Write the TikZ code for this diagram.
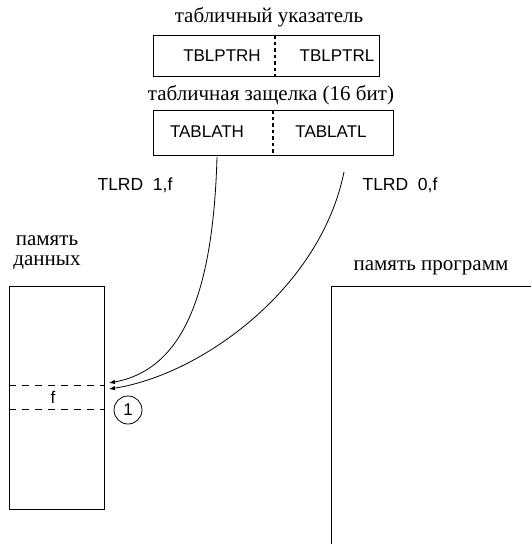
\documentclass[tikz,border=0pt]{standalone}
\usepackage{fontspec}
\setmainfont{Liberation Serif}
\setsansfont{Liberation Sans}
\usetikzlibrary{arrows.meta}
\begin{document}
\begin{tikzpicture}[x=1pt,y=-1pt,line width=0.9pt,
  ttl/.style={font=\fontsize{21}{20}\selectfont\rmfamily,inner sep=0pt},
  reg/.style={font=\fontsize{17}{18}\selectfont\sffamily,inner sep=0pt},
  lbl/.style={font=\fontsize{17.5}{20}\selectfont\sffamily,inner sep=0pt},
  divider/.style={line width=1.5pt,dash pattern=on 3.5pt off 3pt},
  rowline/.style={line width=0.9pt,dash pattern=on 7pt off 6pt},
  conn/.style={line width=0.8pt,-{Latex[length=6pt,width=4.5pt]}}]
\useasboundingbox (0,0) rectangle (531,544);
% pointer
\node[ttl] (t1) at (269,17) {табличный указатель};
\draw (153,35) rectangle (379,76);
\draw[divider] (275,35) -- (275,76);
\node[reg] (ph) at (222,56) {TBLPTRH};
\node[reg] (pl) at (337,56) {TBLPTRL};
% latch
\node[ttl] (t2) at (271,95) {табличная защелка (16 бит)};
\draw (153,110) rectangle (393,155);
\draw[divider] (273,110) -- (273,155);
\node[reg] (lh) at (207,132) {TABLATH};
\node[reg] (ll) at (331,132) {TABLATL};
\coordinate (s1) at (217,157);
\coordinate (s2) at (344,172);
% labels
\node[lbl] (i1) at (135,185) {TLRD\ \ 1,f};
\node[lbl] (i2) at (400,185) {TLRD\ \ 0,f};
% data memory
\node[ttl,align=center] (d1) at (47,253) {память\\данных};
\draw (9,286) rectangle (104,509);
\draw[rowline] (9,385) -- (104,385);
\draw[rowline] (9,409) -- (104,409);
\node[reg] (f) at (53,397) {f};
\coordinate (e1) at (109,383);
\coordinate (e2) at (109,389);
\node[draw,circle,line width=0.8pt,minimum size=28pt,inner sep=0pt,font=\fontsize{17}{18}\selectfont\sffamily] (c1) at (128,410) {1};
% program memory
\node[ttl] (pm) at (431,268) {память программ};
\draw (531,286) -- (331,286) -- (331,544);
% connectors
\draw[conn] (s1) .. controls (213,300) and (180,370) .. (e1);
\draw[conn] (s2) .. controls (320,290) and (200,375) .. (e2);
\end{tikzpicture}
\end{document}
